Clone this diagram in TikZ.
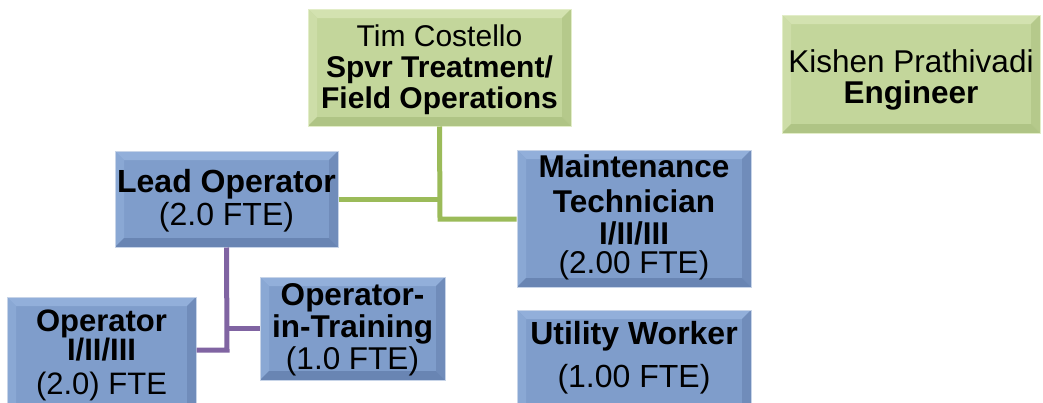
\documentclass[tikz,border=0pt]{standalone}
\usepackage{fontspec}
\setmainfont{Liberation Sans}
\definecolor{gfill}{HTML}{C3D69B}
\definecolor{glight}{HTML}{D3E2B0}
\definecolor{gdark}{HTML}{AFC485}
\definecolor{gborder}{HTML}{E2EDC8}
\definecolor{bfill}{HTML}{7F9DCB}
\definecolor{blight}{HTML}{92AFDA}
\definecolor{bdark}{HTML}{6985B3}
\definecolor{bborder}{HTML}{C7D4E8}
\definecolor{gline}{HTML}{9BBB59}
\definecolor{pline}{HTML}{8064A2}
\newcommand{\boxlines}[1]{\begin{tabular}{@{}c@{}}#1\end{tabular}}
\tikzset{
  bevelbox/.style n args={4}{rectangle, inner sep=0pt, fill=#1,
    draw=#4, line width=1pt,
    path picture={
      \path (path picture bounding box.north west) coordinate (pNW)
            (path picture bounding box.north east) coordinate (pNE)
            (path picture bounding box.south west) coordinate (pSW)
            (path picture bounding box.south east) coordinate (pSE);
      \fill[#2] (pNW) -- (pNE) -- ([shift={(-9pt,-9pt)}]pNE) -- ([shift={(9pt,-9pt)}]pNW) -- cycle;
      \fill[#2!60!#1] (pNW) -- ([shift={(9pt,-9pt)}]pNW) -- ([shift={(9pt,9pt)}]pSW) -- (pSW) -- cycle;
      \fill[#3!70!#1] (pNE) -- (pSE) -- ([shift={(-9pt,9pt)}]pSE) -- ([shift={(-9pt,-9pt)}]pNE) -- cycle;
      \fill[#3] (pSW) -- (pSE) -- ([shift={(-9pt,9pt)}]pSE) -- ([shift={(9pt,9pt)}]pSW) -- cycle;
    }},
  greenbox/.style={bevelbox={gfill}{glight}{gdark}{gborder}},
  bluebox/.style={bevelbox={bfill}{blight}{bdark}{bborder}},
  boxtext/.style={inner sep=0pt, align=center, text=black},
  gconn/.style={draw=gline, line width=5pt},
  pconn/.style={draw=pline, line width=5pt}
}
\begin{document}
\begin{tikzpicture}[x=1pt,y=-1pt]
\clip (0,0) rectangle (1043,402);
\fill[white] (0,0) rectangle (1043,402);

% boxes
\node[greenbox, minimum width=263pt, minimum height=117pt] (top) at (439.5,67.5) {};
\node[greenbox, minimum width=258pt, minimum height=118pt] (kishen) at (911,74) {};
\node[bluebox, minimum width=223pt, minimum height=96pt] (lead) at (226.5,199) {};
\node[bluebox, minimum width=234pt, minimum height=137pt] (maint) at (634,218.5) {};
\node[bluebox, minimum width=234pt, minimum height=105pt] (util) at (634,362.5) {};
\node[bluebox, minimum width=189pt, minimum height=118pt] (op) at (101.5,356) {};
\node[bluebox, minimum width=185pt, minimum height=103pt] (opt) at (352.5,328.5) {};

% texts
\node[boxtext, font=\fontsize{30}{31}\selectfont] (topT) at ([yshift=-4pt]top.center)
  {\boxlines{Tim Costello\\\textbf{Spvr Treatment/}\\\textbf{Field Operations}}};
\node[boxtext, font=\fontsize{31.5}{28}\selectfont] (kishenT) at ([yshift=-6.5pt]kishen.center)
  {\boxlines{Kishen Prathivadi\\\textbf{Engineer}}};
\node[boxtext, font=\fontsize{32}{32}\selectfont] (leadT) at ([yshift=-3.5pt]lead.center)
  {\boxlines{\textbf{Lead Operator}\\(2.0 FTE)}};
\node[boxtext, font=\fontsize{31.5}{32}\selectfont] (maintT) at ([yshift=-0.5pt]maint.center)
  {\boxlines{\textbf{Maintenance}\\[3pt]\textbf{Technician}\\[-1pt]\textbf{I/II/III}\\[-3pt](2.00 FTE)}};
\node[boxtext, font=\fontsize{32}{32}\selectfont] (utilT) at ([yshift=3pt]util.center)
  {\boxlines{\textbf{Utility Worker}\\[10pt](1.00 FTE)}};
\node[boxtext, font=\fontsize{31}{30}\selectfont] (opT) at ([yshift=-1pt]op.center)
  {\boxlines{\textbf{Operator}\\[-3pt]\textbf{I/II/III}\\[3pt](2.0) FTE}};
\node[boxtext, font=\fontsize{31.5}{30.5}\selectfont] (optT) at ([yshift=-3pt]opt.center)
  {\boxlines{\textbf{Operator-}\\\textbf{in-Training}\\(1.0 FTE)}};

% connectors
\coordinate (gj) at (440,219);
\draw[gconn] (top.south) -- (gj) -- (maint.west |- gj);
\draw[gconn] (lead.east) -- (lead.east -| gj);

\coordinate (pj) at (227,350);
\draw[pconn] (lead.south) -- (pj) -- (op.east |- pj);
\draw[pconn] (opt.west) -- (opt.west -| pj);
\end{tikzpicture}
\end{document}
